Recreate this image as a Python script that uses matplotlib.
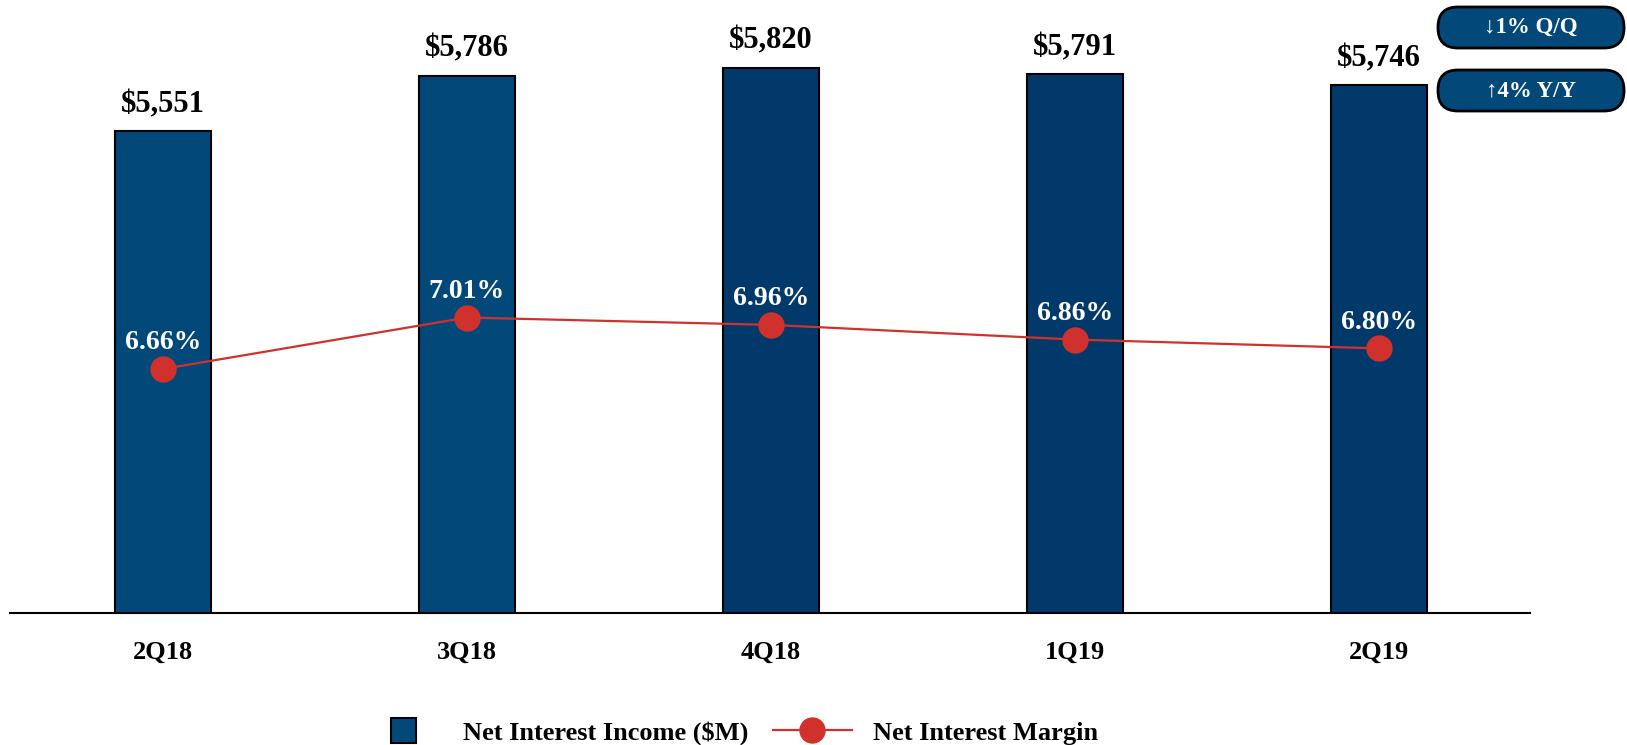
import matplotlib.pyplot as plt
from matplotlib.lines import Line2D
from matplotlib.patches import FancyBboxPatch
from matplotlib.transforms import IdentityTransform

plt.rcParams['font.family'] = ['Liberation Serif', 'DejaVu Serif']
plt.rcParams['font.weight'] = 'bold'

quarters = ["2Q18", "3Q18", "4Q18", "1Q19", "2Q19"]
nii = [5551, 5786, 5820, 5791, 5746]
nim = [6.66, 7.01, 6.96, 6.86, 6.80]
bar_colors = ["#02497a", "#02497a", "#02396b", "#02396b", "#02396b"]
badges = ["\u21931% Q/Q", "\u21914% Y/Y"]

red = "#d0312d"

fig = plt.figure(figsize=(16.27, 7.45), dpi=100)
ax = fig.add_axes([10 / 1627, 1 - 613 / 745, 1520 / 1627, 573 / 745])
x = range(len(quarters))

ax.bar(x, nii, width=0.316, color=bar_colors, edgecolor="black", linewidth=1.5, zorder=2)
ax.set_ylim(3509, 5937)
ax.set_xlim(-0.503, 4.497)
for i, v in enumerate(nii):
    ax.annotate(f"${v:,}", (i, v), xytext=(0, 19), textcoords="offset points",
                ha="center", va="center", fontsize=22, fontweight="bold")

ax2 = ax.twinx()
ax2.plot(x, nim, color=red, linewidth=1.6, marker="o", markersize=18, zorder=3)
ax2.set_ylim(5.0, 8.898)
for i, v in enumerate(nim):
    ax2.annotate(f"{v:.2f}%", (i, v), xytext=(0, 19), textcoords="offset points",
                 ha="center", va="center", fontsize=20, fontweight="bold", color="white")

for a in (ax, ax2):
    for s in ["top", "right", "left"]:
        a.spines[s].set_visible(False)
    a.set_yticks([])
ax2.spines["bottom"].set_visible(False)
ax.spines["bottom"].set_linewidth(1.5)
ax.set_xticks(list(x))
ax.set_xticklabels(quarters, fontsize=19, fontweight="bold")
ax.tick_params(axis="x", length=0, pad=20)

handles = [
    Line2D([], [], linestyle="none", marker="s", markersize=18,
           markerfacecolor="#02497a", markeredgecolor="black", markeredgewidth=1.5),
    Line2D([], [], color=red, linewidth=1.6, marker="o", markersize=18),
]
fig.legend(handles, ["Net Interest Income ($M)", "Net Interest Margin"],
           loc="center", bbox_to_anchor=(0.449, 1 - 733 / 745), ncol=2, frameon=False,
           prop={"size": 19, "weight": "bold"}, handlelength=3.0, handletextpad=0.8,
           columnspacing=0.9)

# badges in pixel coords (y measured from bottom)
for k, txt in enumerate(badges):
    top = 7 + k * 63
    x0, w, h = 1438, 186, 41
    y0 = 745 - top - h
    box = FancyBboxPatch((x0, y0), w, h, boxstyle="round,pad=0,rounding_size=20",
                         facecolor="#02497a", edgecolor="black", linewidth=2,
                         transform=IdentityTransform())
    fig.add_artist(box)
    fig.text((x0 + w / 2) / 1627, (y0 + h / 2) / 745, txt, ha="center", va="center",
             color="white", fontsize=16.5, fontweight="bold")

fig.savefig("out.png", dpi=100)
